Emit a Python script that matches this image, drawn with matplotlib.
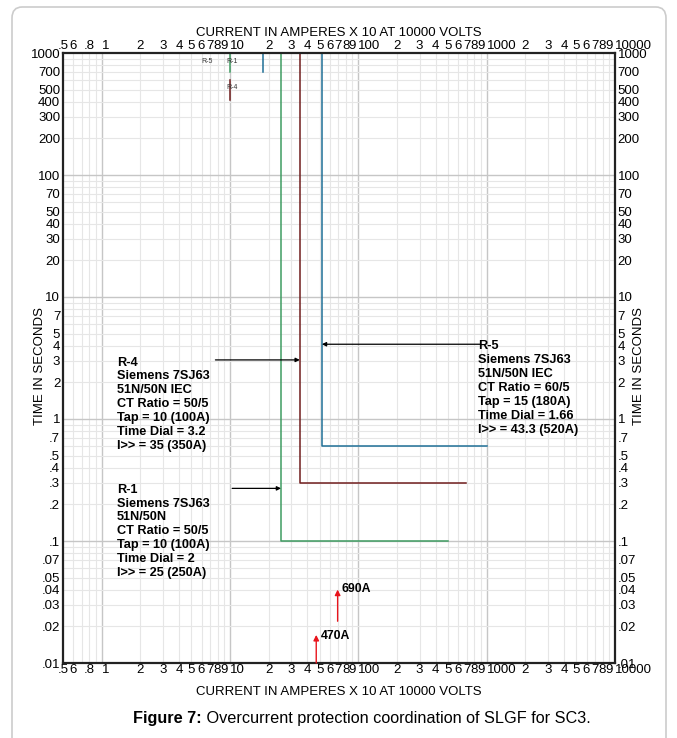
import numpy as np
import matplotlib
matplotlib.use("Agg")
import matplotlib.pyplot as plt
from matplotlib.patches import FancyBboxPatch

plt.rcParams['font.family'] = ['Liberation Sans', 'DejaVu Sans']

# relay curves (current x10 A, time s)
r1_x = [25, 25, 500]
r1_y = [1000, 0.1, 0.1]
r4_x = [35, 35, 690]
r4_y = [1000, 0.3, 0.3]
r5_x = [52, 52, 1000]
r5_y = [1000, 0.6, 0.6]

# short pickup marks near the top
r1_mark_x = [10, 10]
r1_mark_y = [1000, 700]
r4_mark_x = [10, 10]
r4_mark_y = [600, 410]
r5_mark_x = [18, 18]
r5_mark_y = [1000, 700]

# fault currents (x10 A)
fault_470 = [47, 0.01, 0.017]
fault_690 = [69, 0.022, 0.04]

r4_text = "R-4\nSiemens 7SJ63\n51N/50N IEC\nCT Ratio = 50/5\nTap = 10 (100A)\nTime Dial = 3.2\nI>> = 35 (350A)"
r1_text = "R-1\nSiemens 7SJ63\n51N/50N\nCT Ratio = 50/5\nTap = 10 (100A)\nTime Dial = 2\nI>> = 25 (250A)"
r5_text = "R-5\nSiemens 7SJ63\n51N/50N IEC\nCT Ratio = 60/5\nTap = 15 (180A)\nTime Dial = 1.66\nI>> = 43.3 (520A)"

green = '#3f9c62'
red = '#701d1d'
blue = '#1f6f96'

fig = plt.figure(figsize=(6.77, 7.38), dpi=100)
fig.add_artist(FancyBboxPatch((12/677, -0.05), 654/677, 1.05 - 7/738,
                              boxstyle="round,pad=0,rounding_size=0.015",
                              transform=fig.transFigure, fc='none', ec='#cccccc',
                              lw=1.2, zorder=-10))
ax = fig.add_axes([63/677, 1 - 663/738, 552/677, 610/738])
ax.set_xscale('log')
ax.set_yscale('log')
ax.set_xlim(0.5, 10000)
ax.set_ylim(0.01, 1000)

# grid
xminor = [m * 10.0 ** d for d in range(-1, 4) for m in range(2, 10) if m * 10.0 ** d >= 0.5]
xmajor = [1, 10, 100, 1000]
yminor = [m * 10.0 ** d for d in range(-2, 3) for m in range(2, 10)]
ymajor = [0.1, 1, 10, 100]
for v in xminor:
    ax.axvline(v, color='#e6e6e6', lw=0.8, zorder=0)
for v in xmajor:
    ax.axvline(v, color='#c6c6c6', lw=1.0, zorder=0)
for v in yminor:
    ax.axhline(v, color='#e6e6e6', lw=0.8, zorder=0)
for v in ymajor:
    ax.axhline(v, color='#c6c6c6', lw=1.0, zorder=0)

# ticks
decades = (1, 10, 100, 1000, 10000)
def xlab(v):
    if v in decades:
        return str(int(v))
    if v == 0.5:
        return '.5'
    if v == 0.8:
        return '.8'
    if v == 0.6:
        return '6'
    if v < 1:
        return ''
    return str(int(round(v / 10 ** np.floor(np.log10(v)))))

xt = [0.5, 0.6, 0.8] + [m * 10.0 ** d for d in range(0, 4) for m in range(1, 10)] + [10000]
ax.set_xticks(xt)
ax.set_xticklabels([xlab(v) for v in xt])
ax.xaxis.set_minor_locator(matplotlib.ticker.NullLocator())

yt = [0.01, 0.02, 0.03, 0.04, 0.05, 0.07, 0.1, 0.2, 0.3, 0.4, 0.5, 0.7,
      1, 2, 3, 4, 5, 7, 10, 20, 30, 40, 50, 70, 100, 200, 300, 400, 500, 700, 1000]
def ylab(v):
    if v >= 1:
        return str(int(v))
    return ('%g' % v).lstrip('0')
ax.set_yticks(yt)
ax.set_yticklabels([ylab(v) for v in yt])
ax.yaxis.set_minor_locator(matplotlib.ticker.NullLocator())

ax.tick_params(axis='both', length=0, labelsize=9.5, pad=1,
               top=True, labeltop=True, right=True, labelright=True)
ax.tick_params(axis='y', pad=2)
for v, tick in zip(xt, ax.xaxis.get_major_ticks()):
    if v in decades:
        tick.label1.set_ha('left')
        tick.label2.set_ha('left')
for s in ax.spines.values():
    s.set_linewidth(1.6)
    s.set_color('#222222')

ax.set_xlabel("CURRENT IN AMPERES X 10 AT 10000 VOLTS", fontsize=9.5, labelpad=7)
ax.text(0.5, 1.023, "CURRENT IN AMPERES X 10 AT 10000 VOLTS", transform=ax.transAxes,
        ha='center', va='bottom', fontsize=9.5)
ax.text(-0.042, 0.487, "TIME IN SECONDS", transform=ax.transAxes, rotation=90,
        ha='center', va='center', fontsize=9.5)
ax.text(1.043, 0.487, "TIME IN SECONDS", transform=ax.transAxes, rotation=90,
        ha='center', va='center', fontsize=9.5)

# curves
ax.plot(r1_x, r1_y, color=green, lw=1.1)
ax.plot(r4_x, r4_y, color=red, lw=1.1)
ax.plot(r5_x, r5_y, color=blue, lw=1.1)
ax.plot(r1_mark_x, r1_mark_y, color=green, lw=1.1)
ax.plot(r4_mark_x, r4_mark_y, color=red, lw=1.1)
ax.plot(r5_mark_x, r5_mark_y, color=blue, lw=1.1)
ax.text(6.6, 850, "R-5", fontsize=5, ha='center', va='center', color='#333333')
ax.text(10.3, 850, "R-1", fontsize=5, ha='center', va='center', color='#333333')
ax.text(10.4, 520, "R-4", fontsize=5, ha='center', va='center', color='#333333')

# relay labels and pointers
ap = dict(arrowstyle='-|>', color='black', lw=0.9, mutation_scale=6, shrinkA=0, shrinkB=0)
ax.annotate("", xy=(35, 3.05), xytext=(7.7, 3.05), arrowprops=ap)
ax.annotate("", xy=(25, 0.27), xytext=(10.4, 0.27), arrowprops=ap)
ax.annotate("", xy=(52, 4.1), xytext=(890, 4.1), arrowprops=ap)
tkw = dict(fontsize=9.2, fontweight='bold', va='top', ha='left', linespacing=1.21)
ax.text(1.31, 3.25, r4_text, **tkw)
ax.text(1.31, 0.295, r1_text, **tkw)
ax.text(860, 4.4, r5_text, **tkw)

# fault current arrows
fp = dict(arrowstyle='-|>', color='#e8141c', lw=1.0, mutation_scale=8, shrinkA=0, shrinkB=0)
ax.annotate("", xy=(fault_470[0], fault_470[2]), xytext=(fault_470[0], fault_470[1]), arrowprops=fp)
ax.annotate("", xy=(fault_690[0], fault_690[2]), xytext=(fault_690[0], fault_690[1]), arrowprops=fp)
ax.text(51, 0.0166, "470A", fontsize=8.8, fontweight='bold', ha='left', va='center')
ax.text(74, 0.0405, "690A", fontsize=8.8, fontweight='bold', ha='left', va='center')

# caption
t1 = fig.text(133/677, 1 - 718/738, "Figure 7:", fontsize=11.7, fontweight='bold',
              ha='left', va='center')
ax.annotate(" Overcurrent protection coordination of SLGF for SC3.", xy=(1, 0),
            xycoords=t1, va='bottom', ha='left', fontsize=11.7, annotation_clip=False)

fig.savefig("out.png", dpi=100)
